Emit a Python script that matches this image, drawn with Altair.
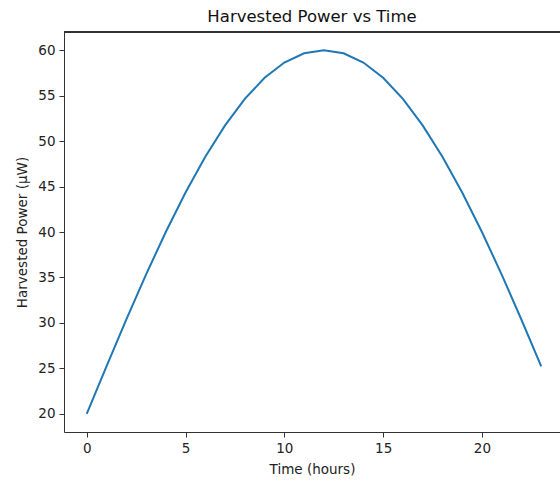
import altair as alt
import pandas as pd

hours = list(range(24))
power = [20.0, 25.22, 30.35, 35.31, 40.0, 44.35, 48.28, 51.73, 54.64, 56.96, 58.64, 59.66,
         60.0, 59.66, 58.64, 56.96, 54.64, 51.73, 48.28, 44.35, 40.0, 35.31, 30.35, 25.22]
x_ticks = [0, 5, 10, 15, 20]
y_ticks = [20, 25, 30, 35, 40, 45, 50, 55, 60]

df = pd.DataFrame({"t": hours, "p": power})
FONT = "DejaVu Sans"
W, H = 496, 400

line = alt.Chart(df).mark_line(color="#1f77b4", strokeWidth=2).encode(
    x=alt.X("t:Q", scale=alt.Scale(domain=[-1.15, 23.95], nice=False, zero=False),
            axis=alt.Axis(values=x_ticks, title="Time (hours)", grid=False,
                          tickSize=5, labelPadding=4, titlePadding=8,
                          domainColor="#333333", tickColor="#333333",
                          labelColor="#222222", titleColor="#222222",
                          labelFontSize=13.5, titleFontSize=13.5,
                          labelFont=FONT, titleFont=FONT, titleFontWeight="normal")),
    y=alt.Y("p:Q", scale=alt.Scale(domain=[18, 62], nice=False, zero=False),
            axis=alt.Axis(values=y_ticks, title="Harvested Power (µW)", grid=False,
                          tickSize=5, labelPadding=4, titlePadding=8,
                          domainColor="#333333", tickColor="#333333",
                          labelColor="#222222", titleColor="#222222",
                          labelFontSize=13.5, titleFontSize=13.5,
                          labelFont=FONT, titleFont=FONT, titleFontWeight="normal")),
)

top = alt.Chart(df).mark_rule(color="#333333", strokeWidth=1).encode(
    x=alt.value(0), x2=alt.value(W), y=alt.value(0)
)

chart = alt.layer(line, top).properties(
    width=W, height=H,
    title=alt.TitleParams("Harvested Power vs Time", font=FONT, fontSize=16.5,
                          fontWeight="normal", color="#111111", offset=6),
    padding={"left": 64, "top": 32, "right": 0, "bottom": 50},
    autosize=alt.AutoSizeParams(type="none"),
).configure_view(stroke=None).configure(background="white")

chart.save("out.html", embed_options={"renderer": "svg", "actions": False})
